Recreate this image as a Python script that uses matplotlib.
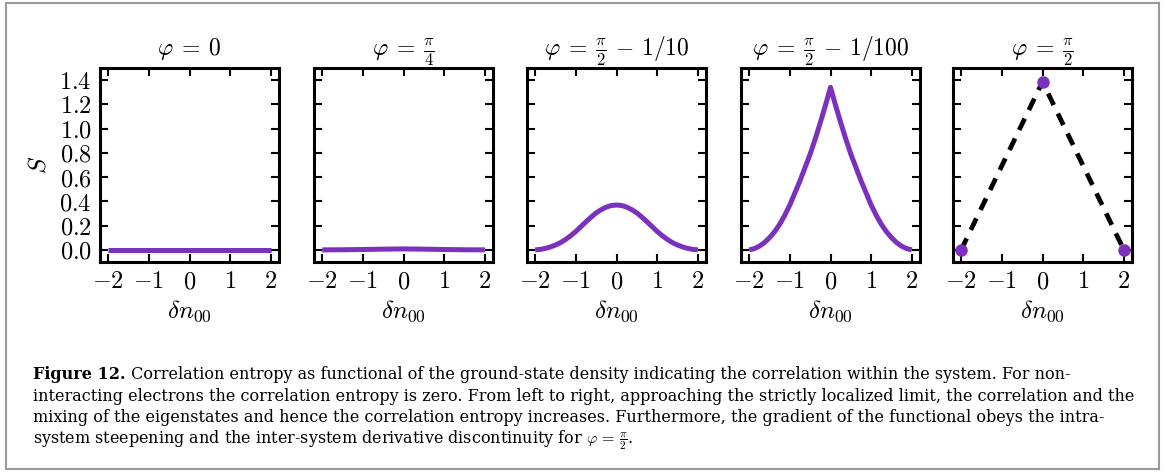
import matplotlib
matplotlib.use("Agg")
from matplotlib import pyplot as plt
from matplotlib.patches import Rectangle
from matplotlib.ticker import FuncFormatter

plt.rcParams['mathtext.fontset'] = 'cm'
plt.rcParams['font.family'] = ['DejaVu Serif']

# 数据
titles = [r'$\varphi\:=\:0$', r'$\varphi\:=\:\frac{\pi}{4}$', r'$\varphi\:=\:\frac{\pi}{2}\,-\,1/10$',
          r'$\varphi\:=\:\frac{\pi}{2}\,-\,1/100$', r'$\varphi\:=\:\frac{\pi}{2}$']

x_phi0 = [-2.0, 2.0]
s_phi0 = [0.0, 0.0]

x_phi1 = [-2.0, -1.5, -1.0, -0.5, 0.0, 0.5, 1.0, 1.5, 2.0]
s_phi1 = [0.0, 0.001, 0.003, 0.006, 0.008, 0.006, 0.003, 0.001, 0.0]

x_phi2 = [-2.0, -1.875, -1.75, -1.625, -1.5, -1.375, -1.25, -1.125, -1.0, -0.875, -0.75, -0.625,
          -0.5, -0.375, -0.25, -0.125, 0.0, 0.125, 0.25, 0.375, 0.5, 0.625, 0.75, 0.875,
          1.0, 1.125, 1.25, 1.375, 1.5, 1.625, 1.75, 1.875, 2.0]
s_phi2 = [0.0, 0.004, 0.012, 0.024, 0.040, 0.060, 0.086, 0.117, 0.152, 0.192, 0.232, 0.270,
          0.305, 0.332, 0.353, 0.366, 0.370, 0.366, 0.353, 0.332, 0.305, 0.270, 0.232, 0.192,
          0.152, 0.117, 0.086, 0.060, 0.040, 0.024, 0.012, 0.004, 0.0]

x_phi3 = [-2.0, -1.875, -1.75, -1.625, -1.5, -1.375, -1.25, -1.125, -1.0, -0.875, -0.75, -0.625,
          -0.5, -0.375, -0.25, -0.1, -0.05, 0.0, 0.05, 0.1, 0.25, 0.375, 0.5, 0.625, 0.75, 0.875,
          1.0, 1.125, 1.25, 1.375, 1.5, 1.625, 1.75, 1.875, 2.0]
s_phi3 = [0.0, 0.01, 0.03, 0.06, 0.10, 0.15, 0.21, 0.285, 0.37, 0.47, 0.57, 0.68,
          0.79, 0.915, 1.05, 1.22, 1.28, 1.34, 1.28, 1.22, 1.05, 0.915, 0.79, 0.68, 0.57, 0.47,
          0.37, 0.285, 0.21, 0.15, 0.10, 0.06, 0.03, 0.01, 0.0]

x_phi4 = [-2.0, 0.0, 2.0]
s_phi4 = [0.0, 1.386, 0.0]

x_ticks = [-2, -1, 0, 1, 2]
y_ticks = [0.0, 0.2, 0.4, 0.6, 0.8, 1.0, 1.2, 1.4]

caption_bold = 'Figure 12.'
caption_lines = [
    ' Correlation entropy as functional of the ground-state density indicating the correlation within the system. For non-',
    'interacting electrons the correlation entropy is zero. From left to right, approaching the strictly localized limit, the correlation and the',
    'mixing of the eigenstates and hence the correlation entropy increases. Furthermore, the gradient of the functional obeys the intra-',
    r'system steepening and the inter-system derivative discontinuity for $\varphi\,=\,\frac{\pi}{2}$.',
]

purple = '#7b30be'
W, H = 1165, 472

fig = plt.figure(figsize=(W / 100, H / 100), dpi=100)

# 外框
fig.patches.append(Rectangle((6 / W, 1 - 469 / H), 1153 / W, 466 / H, transform=fig.transFigure,
                             fill=False, edgecolor='#9a9a9a', linewidth=1.5))

lefts = [100, 314, 527, 741, 953]
series = [(x_phi0, s_phi0), (x_phi1, s_phi1), (x_phi2, s_phi2), (x_phi3, s_phi3)]
axs = []
for i, l in enumerate(lefts):
    ax = fig.add_axes([l / W, 1 - 262 / H, 179 / W, 194 / H])
    axs.append(ax)
    if i < 4:
        ax.plot(series[i][0], series[i][1], color=purple, linewidth=3.6,
                solid_capstyle='butt', solid_joinstyle='round')
    else:
        ax.plot(x_phi4, s_phi4, color='black', linewidth=3.4, linestyle=(0, (2.7, 2.0)))
        ax.plot(x_phi4, s_phi4, linestyle='none', marker='o', markersize=8,
                color=purple, markeredgecolor=purple, zorder=5, clip_on=False)
    ax.set_xlim(-2.2, 2.2)
    ax.set_ylim(-0.1, 1.5)
    ax.set_xticks(x_ticks)
    ax.set_yticks(y_ticks)
    ax.xaxis.set_major_formatter(FuncFormatter(lambda v, p: r'$%d$' % v))
    ax.yaxis.set_major_formatter(FuncFormatter(lambda v, p: r'$%.1f$' % v))
    ax.tick_params(direction='in', top=True, right=True, length=6, width=1.5,
                   labelsize=17.5, pad=6)
    if i > 0:
        ax.tick_params(labelleft=False)
    for sp in ax.spines.values():
        sp.set_linewidth(2.2)
    ax.set_title(titles[i], fontsize=17, pad=9)
    ax.set_xlabel(r'$\delta n_{00}$', fontsize=18, labelpad=4)

axs[0].set_ylabel(r'$S$', fontsize=18, labelpad=6)

# 图注
cap_size = 11.5
base_y = [379, 401, 422, 443]
renderer = fig.canvas.get_renderer()
t = fig.text(33 / W, 1 - base_y[0] / H, caption_bold, fontsize=cap_size, fontweight='bold',
             va='baseline', ha='left')
bb = t.get_window_extent(renderer=renderer)
fig.text(bb.x1 / W, 1 - base_y[0] / H, caption_lines[0], fontsize=cap_size,
         va='baseline', ha='left')
for k in range(1, 4):
    fig.text(33 / W, 1 - base_y[k] / H, caption_lines[k], fontsize=cap_size,
             va='baseline', ha='left')

fig.savefig('out.png', dpi=100)
